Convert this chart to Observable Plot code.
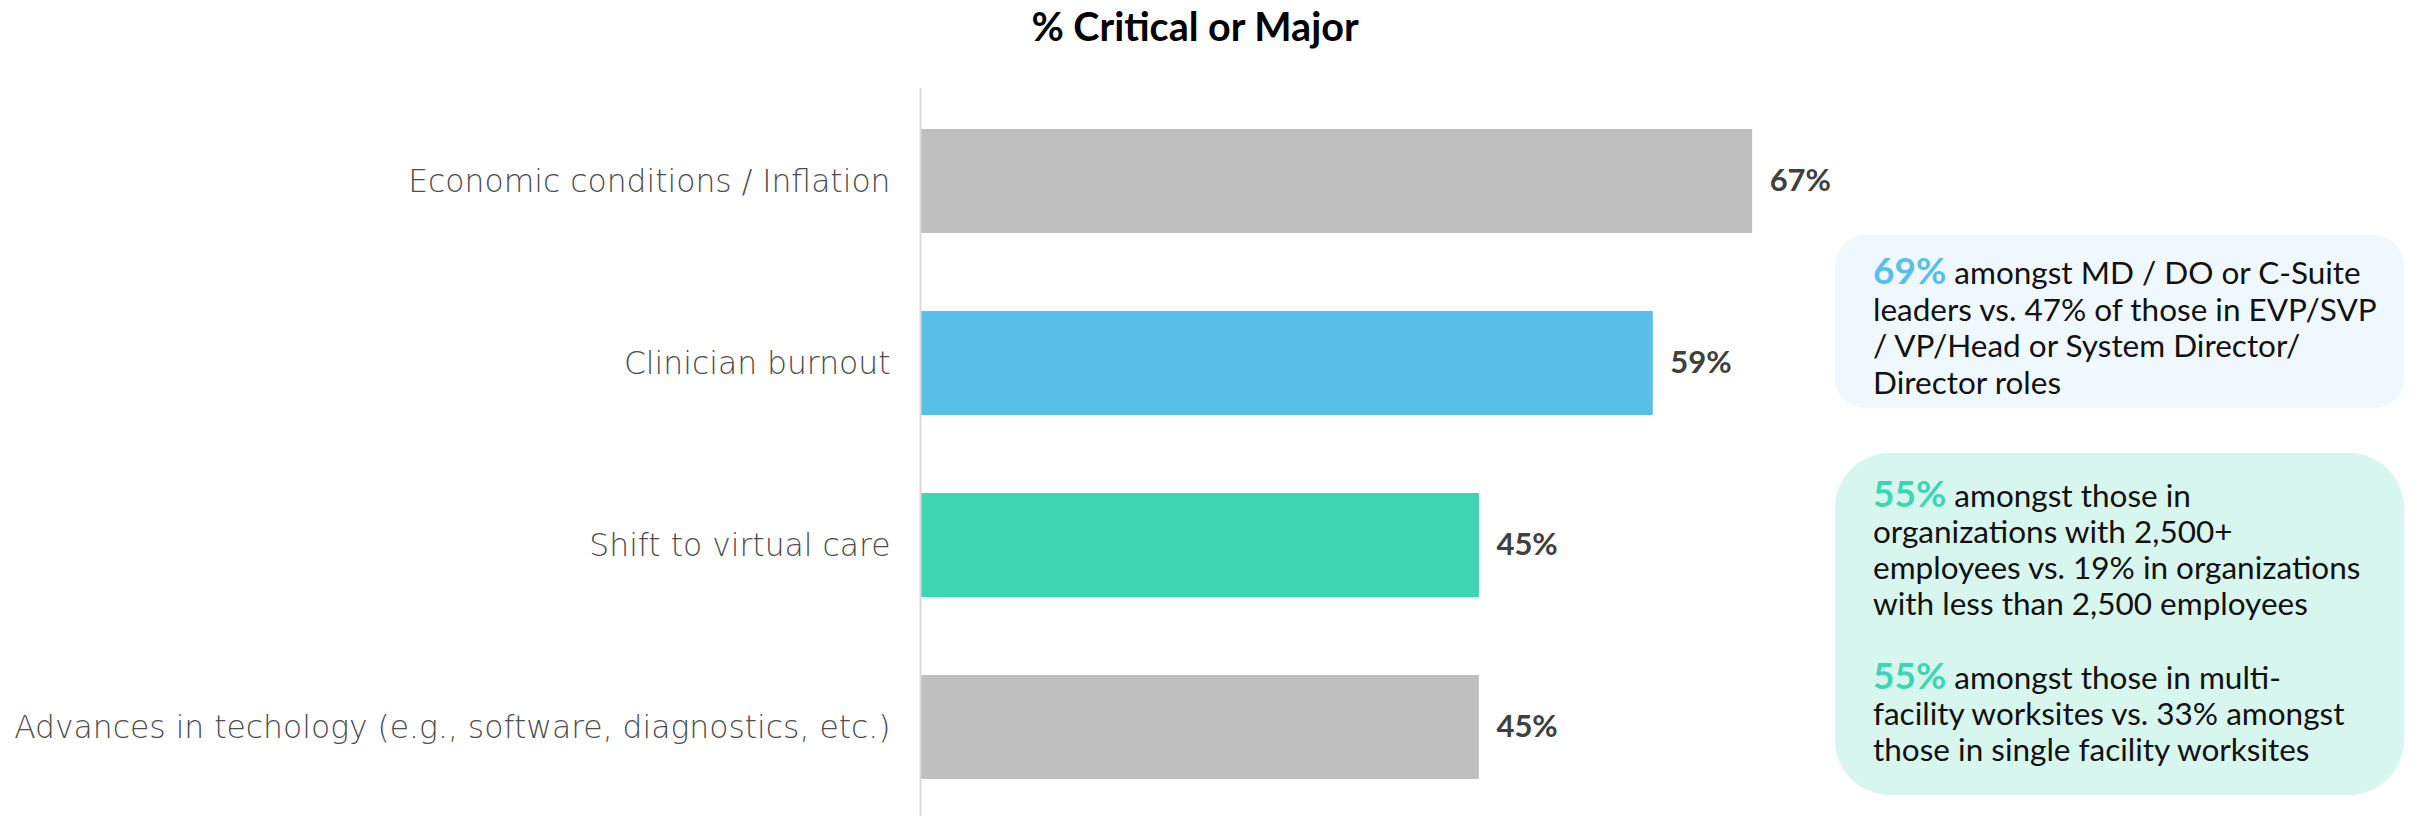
<!DOCTYPE html>
<html>
<head>
<meta charset="utf-8">
<script src="https://cdn.jsdelivr.net/npm/d3@7"></script>
<script src="https://cdn.jsdelivr.net/npm/@observablehq/plot@0.6"></script>
<style>
  html, body { margin: 0; padding: 0; background: #ffffff; }
  #wrap { position: relative; width: 2419px; height: 816px; overflow: hidden; font-family: Lato, "Open Sans", sans-serif; }
  #title { position: absolute; left: 0; width: 2390px; top: 6px; text-align: center; font-weight: 700; font-size: 39.5px; line-height: 40px; color: #000; }
  #chart { position: absolute; left: 0; top: 0; }
  .box { position: absolute; left: 1835px; width: 569px; box-sizing: border-box; padding-left: 38px; font-size: 31.5px; color: #111; white-space: nowrap; }
  #box1 { top: 235px; height: 173px; border-radius: 30px; background: #eff9fd; padding-top: 17px; line-height: 36.5px; }
  #box2 { top: 453px; height: 342px; border-radius: 55px; background: #d7f6ee; padding-top: 22px; line-height: 36px; }
  .hl { font-weight: 700; font-size: 37px; }
  .blue { color: #56c0e8; }
  .green { color: #3dd6b2; }
</style>
</head>
<body>
<div id="wrap">
  <div id="title">% Critical or Major</div>
  <div id="chart"></div>
  <div class="box" id="box1"><span class="hl blue">69%</span> amongst MD / DO or C-Suite<br>leaders vs. 47% of those in EVP/SVP<br>/ VP/Head or System Director/<br>Director roles</div>
  <div class="box" id="box2"><span class="hl green">55%</span> amongst those in<br>organizations with 2,500+<br>employees vs. 19% in organizations<br>with less than 2,500 employees<br><br><span class="hl green">55%</span> amongst those in multi-<br>facility worksites vs. 33% amongst<br>those in single facility worksites</div>
</div>
<script>
const categories = [
  "Economic conditions / Inflation",
  "Clinician burnout",
  "Shift to virtual care",
  "Advances in techology (e.g., software, diagnostics, etc.)"
];
const values = [67, 59, 45, 45];
const barColors = ["#bfbfbf", "#56c0e8", "#3dd6b2", "#bfbfbf"];
const valueLabels = ["67%", "59%", "45%", "45%"];

const data = categories.map((c, i) => ({
  category: c,
  value: values[i],
  color: barColors[i],
  label: valueLabels[i]
}));

const chart = Plot.plot({
  width: 2419,
  height: 816,
  marginLeft: 920,
  marginRight: 257,
  marginTop: 88,
  marginBottom: 0,
  style: { fontFamily: "Lato, 'Open Sans', sans-serif", background: "transparent", overflow: "visible" },
  x: { domain: [0, 100], axis: null },
  y: { domain: categories, range: [89, 819], paddingInner: 0.43, paddingOuter: 0.215, label: null },
  color: { type: "identity" },
  marks: [
    Plot.barX(data, { x: "value", y: "category", fill: "color" }),
    Plot.ruleX([0], { stroke: "#d9d9d9", strokeWidth: 2 }),
    Plot.axisY({ tickSize: 0, tickPadding: 30, fontSize: 31.4, fontFamily: "'DejaVu Sans', sans-serif", fontWeight: 300, fill: "#4d4d4d", label: null }),
    Plot.text(data, { x: "value", y: "category", text: "label", dx: 17, textAnchor: "start", fontSize: 31, fontWeight: 700, fill: "#404040" })
  ]
});
document.getElementById("chart").appendChild(chart);
</script>
</body>
</html>
